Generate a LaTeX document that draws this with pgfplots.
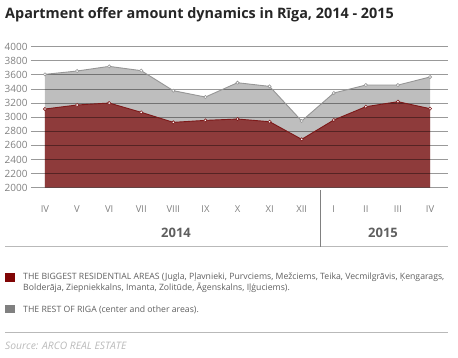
\documentclass[border=0pt]{standalone}
\usepackage{pgfplots}
\pgfplotsset{compat=1.18}
\usepackage{fontspec}
\setmainfont{Open Sans}
\definecolor{redfill}{RGB}{142,59,59}
\definecolor{redline}{RGB}{125,25,25}
\definecolor{greyfill}{RGB}{190,190,190}
\definecolor{greyline}{RGB}{150,150,150}
\definecolor{txt}{RGB}{95,95,95}
\definecolor{legred}{RGB}{128,5,5}
\definecolor{leggrey}{RGB}{128,128,128}
\begin{document}
\begin{tikzpicture}
\path[use as bounding box] (0pt,0pt) rectangle (458pt,358pt);
\node[anchor=base west, font=\fontsize{14.4}{16}\selectfont\bfseries, text=black!85, inner sep=0] at (5pt,339pt) {Apartment offer amount dynamics in Rīga, 2014 - 2015};
\begin{axis}[at={(31pt,170.3pt)}, anchor=south west, scale only axis,
  width=417pt, height=141pt, xmin=-0.436, xmax=12.56, ymin=2000, ymax=4000,
  ytick={2000,2200,...,4000}, xtick={0,...,12},
  xticklabels={IV,V,VI,VII,VIII,IX,X,XI,XII,I,II,III,IV},
  axis line style={draw=none}, major tick style={draw=none},
  tick label style={text=gray},
  yticklabel style={font=\fontsize{10}{11}\selectfont},
  /pgf/number format/assume math mode=true, /pgf/number format/1000 sep={},
  xticklabel style={font=\fontsize{9.5}{10}\selectfont, anchor=center, yshift=-21pt}, clip=false]
\addplot[fill=greyfill, draw=none] coordinates {
(0,3608) (1,3655) (2,3721) (3,3660) (4,3376) (5,3286) (6,3489) (7,3437) (8,2946) (9,3343) (10,3456) (11,3456) (12,3570)} \closedcycle;
\addplot[fill=redfill, draw=none] coordinates {
(0,3116) (1,3173) (2,3201) (3,3069) (4,2927) (5,2955) (6,2974) (7,2936) (8,2686) (9,2960) (10,3149) (11,3220) (12,3121)} \closedcycle;
\pgfplotsinvokeforeach{2000,2200,...,4000}{
\addplot[black, opacity=0.4, line width=0.8pt] coordinates {(-0.436,#1) (12.56,#1)};
}
\addplot[greyline, line width=0.9pt, mark=*, mark size=1.6pt, mark options={fill=white, draw=greyline, line width=0.6pt}] coordinates {
(0,3608) (1,3655) (2,3721) (3,3660) (4,3376) (5,3286) (6,3489) (7,3437) (8,2946) (9,3343) (10,3456) (11,3456) (12,3570)};
\addplot[redline, line width=0.9pt, mark=*, mark size=1.6pt, mark options={fill=white, draw=redline, line width=0.6pt}] coordinates {
(0,3116) (1,3173) (2,3201) (3,3069) (4,2927) (5,2955) (6,2974) (7,2936) (8,2686) (9,2960) (10,3149) (11,3220) (12,3121)};
\end{axis}
\draw[color=gray!55, line width=1.2pt] (5pt,111.3pt) -- (448pt,111.3pt);
\draw[color=gray, line width=0.6pt] (320pt,168pt) -- (320pt,111.3pt);
\node[font=\bfseries\fontsize{13}{14}\selectfont, text=txt] at (176pt,125.3pt) {2014};
\node[font=\bfseries\fontsize{13}{14}\selectfont, text=txt] at (383pt,125.3pt) {2015};
\fill[legred] (5pt,76pt) rectangle (15pt,85pt);
\fill[leggrey] (5pt,45pt) rectangle (15pt,53pt);
\node[anchor=mid west, inner sep=0, text=txt, font=\fontsize{8.7}{10}\selectfont] at (23pt,81.5pt) {THE BIGGEST RESIDENTIAL AREAS (Jugla, Pļavnieki, Purvciems, Mežciems, Teika, Vecmilgrāvis, Ķengarags,};
\node[anchor=mid west, inner sep=0, text=txt, font=\fontsize{8.7}{10}\selectfont] at (23pt,70.5pt) {Bolderāja, Ziepniekkalns, Imanta, Zolitūde, Āgenskalns, Iļģuciems).};
\node[anchor=mid west, inner sep=0, text=txt, font=\fontsize{8.7}{10}\selectfont] at (23pt,48.5pt) {THE REST OF RIGA (center and other areas).};
\draw[color=gray!55, line width=1.2pt] (5pt,25.3pt) -- (448pt,25.3pt);
\node[anchor=mid west, inner sep=0, text=gray!55, font=\itshape\fontsize{10.3}{11}\selectfont] at (5pt,11pt) {Source: ARCO REAL ESTATE};
\end{tikzpicture}
\end{document}
